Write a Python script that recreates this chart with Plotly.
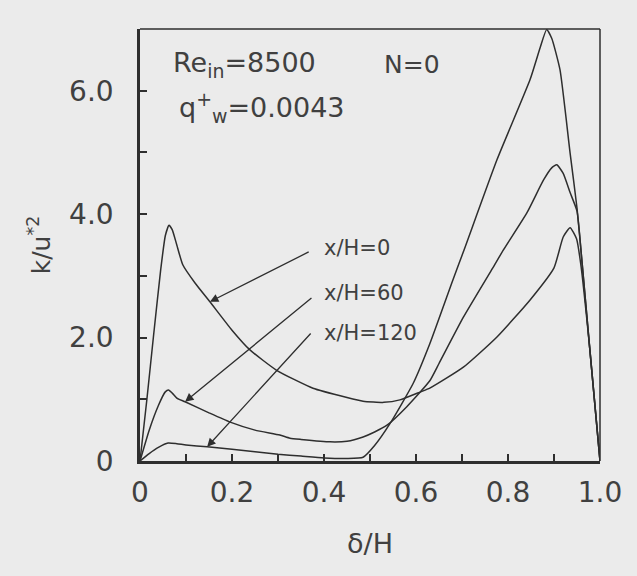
import plotly.graph_objects as go

# ---- data ----
x_h0 = [0, 0.015, 0.03, 0.045, 0.055, 0.063, 0.07, 0.08, 0.093, 0.12, 0.152, 0.2, 0.239,
        0.297, 0.376, 0.45, 0.485, 0.53, 0.565, 0.61, 0.63, 0.703, 0.776, 0.848, 0.9,
        0.92, 0.935, 0.949, 0.958, 0.978, 1.0]
y_h0 = [0, 1.0, 2.07, 3.1, 3.65, 3.82, 3.75, 3.5, 3.18, 2.88, 2.58, 2.12, 1.8,
        1.47, 1.18, 1.03, 0.97, 0.95, 0.99, 1.12, 1.18, 1.52, 2.01, 2.61, 3.13,
        3.63, 3.78, 3.6, 3.2, 1.8, 0]

x_h60 = [0, 0.02, 0.04, 0.055, 0.062, 0.07, 0.08, 0.098, 0.15, 0.196, 0.25, 0.304, 0.326,
         0.35, 0.413, 0.45, 0.485, 0.51, 0.537, 0.58, 0.63, 0.65, 0.703, 0.767, 0.79,
         0.841, 0.877, 0.895, 0.906, 0.92, 0.935, 0.95, 0.96, 0.978, 1.0]
y_h60 = [0, 0.5, 0.9, 1.12, 1.15, 1.1, 1.02, 0.96, 0.78, 0.63, 0.5, 0.42, 0.37,
         0.35, 0.31, 0.32, 0.39, 0.47, 0.58, 0.88, 1.3, 1.58, 2.33, 3.13, 3.42,
         4.02, 4.55, 4.75, 4.8, 4.66, 4.35, 4.05, 3.3, 1.8, 0]

x_h120 = [0, 0.02, 0.04, 0.061, 0.08, 0.1, 0.146, 0.2, 0.25, 0.3, 0.35, 0.4, 0.45, 0.485,
          0.51, 0.543, 0.594, 0.63, 0.68, 0.703, 0.776, 0.848, 0.87, 0.884, 0.895,
          0.913, 0.935, 0.95, 0.96, 0.978, 1.0]
y_h120 = [0, 0.12, 0.22, 0.29, 0.28, 0.26, 0.23, 0.19, 0.15, 0.11, 0.08, 0.05, 0.04, 0.06,
          0.25, 0.6, 1.26, 1.9, 2.93, 3.39, 4.88, 6.18, 6.7, 6.99, 6.85,
          6.34, 4.99, 4.1, 3.3, 1.8, 0]

x_tickvals = [0, 0.2, 0.4, 0.6, 0.8, 1.0]
x_ticktext = ["0", "0.2", "0.4", "0.6", "0.8", "1.0"]
y_tickvals = [0, 2, 4, 6]
y_ticktext = ["0", "2.0", "4.0", "6.0"]

labels = ["x/H=0", "x/H=60", "x/H=120"]
# arrow tails/heads (data coords) and label positions
arrow_tail = [(0.370, 3.40), (0.376, 2.66), (0.374, 2.09)]
arrow_head = [(0.152, 2.58), (0.098, 0.96), (0.146, 0.23)]
label_pos = [(0.395, 3.45), (0.395, 2.72), (0.395, 2.07)]

LINE = "#2e2e2e"
TEXT = "#404040"
BG = "#ebebeb"
FONT = "DejaVu Sans"

fig = go.Figure()
for xs, ys in [(x_h0, y_h0), (x_h60, y_h60), (x_h120, y_h120)]:
    fig.add_trace(go.Scatter(x=xs, y=ys, mode="lines",
                             line=dict(color=LINE, width=1.5, shape="spline", smoothing=0.5),
                             showlegend=False, hoverinfo="skip"))

annotations = []
for (tx, ty), (hx, hy) in zip(arrow_tail, arrow_head):
    annotations.append(dict(x=hx, y=hy, ax=tx, ay=ty, xref="x", yref="y",
                            axref="x", ayref="y", text="", showarrow=True,
                            arrowhead=2, arrowsize=1.3, arrowwidth=1.3,
                            arrowcolor=LINE))
for lab, (lx, ly) in zip(labels, label_pos):
    annotations.append(dict(x=lx, y=ly, xref="x", yref="y", text=lab,
                            showarrow=False, xanchor="left", yanchor="middle",
                            font=dict(family=FONT, size=21, color=TEXT)))
annotations += [
    dict(x=0.068, y=6.42, xref="x", yref="y", text="Re<sub>in</sub>=8500",
         showarrow=False, xanchor="left", yanchor="middle",
         font=dict(family=FONT, size=27, color=TEXT)),
    dict(x=0.525, y=6.42, xref="x", yref="y", text="N=0",
         showarrow=False, xanchor="left", yanchor="middle",
         font=dict(family=FONT, size=25, color=TEXT)),
    dict(x=0.08, y=5.72, xref="x", yref="y", text="q<sup>+</sup><sub>w</sub>=0.0043",
         showarrow=False, xanchor="left", yanchor="middle",
         font=dict(family=FONT, size=27, color=TEXT)),
]

fig.update_layout(
    width=637, height=576,
    margin=dict(l=140, r=37, t=29, b=115),
    paper_bgcolor=BG, plot_bgcolor=BG,
    font=dict(family=FONT, size=27, color=TEXT),
    annotations=annotations,
    shapes=[
        dict(type="line", xref="paper", yref="paper", x0=0, x1=1, y0=1, y1=1,
             line=dict(color=LINE, width=1.5)),
        dict(type="line", xref="paper", yref="paper", x0=1, x1=1, y0=0, y1=1,
             line=dict(color=LINE, width=1.5)),
    ],
)
fig.update_xaxes(
    range=[0, 1.0], showgrid=False, zeroline=False,
    showline=True, linecolor=LINE, linewidth=2.5,
    tickvals=x_tickvals, ticktext=x_ticktext,
    ticks="inside", ticklen=7, tickwidth=1.5, tickcolor=LINE,
    minor=dict(dtick=0.1, ticks="inside", ticklen=7, tickwidth=1.5, tickcolor=LINE),
    ticklabelstandoff=5,
    tickfont=dict(family=FONT, size=28, color=TEXT),
    title=dict(text="δ/H", standoff=26, font=dict(family=FONT, size=27, color=TEXT)),
)
fig.update_yaxes(
    range=[0, 7.0], showgrid=False, zeroline=False,
    showline=True, linecolor=LINE, linewidth=2.5,
    tickvals=y_tickvals, ticktext=y_ticktext,
    ticks="inside", ticklen=7, tickwidth=1.5, tickcolor=LINE,
    minor=dict(dtick=1, ticks="inside", ticklen=7, tickwidth=1.5, tickcolor=LINE),
    ticklabelstandoff=18,
    tickfont=dict(family=FONT, size=28, color=TEXT),
    title=dict(text="k/u<sup>*2</sup>", standoff=12, font=dict(family=FONT, size=25, color=TEXT)),
)

fig.write_html("out.html")
